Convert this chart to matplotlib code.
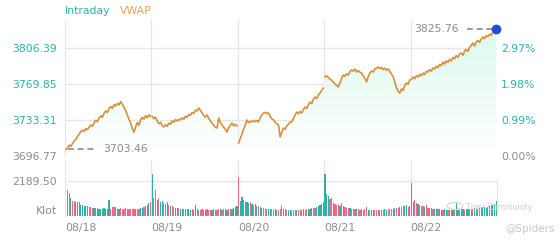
import numpy as np
import matplotlib
matplotlib.use("Agg")
import matplotlib.pyplot as plt
from matplotlib.colors import LinearSegmentedColormap
from matplotlib.patches import Circle

# prix intraday (52 pontos por dia)
prev_close = 3696.77
days = ["08/18", "08/19", "08/20", "08/21", "08/22"]

price_0818 = [3703.46, 3705.0, 3707.8, 3706.5, 3709.6, 3712.0, 3713.5, 3716.8, 3719.0, 3721.5, 3723.0, 3721.8, 3724.6,
              3723.5, 3726.0, 3728.2, 3727.0, 3730.5, 3733.0, 3731.6, 3735.2, 3737.5, 3736.0, 3740.1, 3742.5, 3741.0,
              3744.8, 3747.0, 3745.2, 3748.9, 3747.5, 3750.2, 3748.6, 3752.0, 3749.5, 3746.2, 3743.0, 3738.5, 3734.2,
              3730.0, 3724.5, 3721.0, 3726.3, 3730.8, 3728.0, 3733.5, 3736.0, 3734.2, 3737.8, 3735.5, 3738.6, 3737.0]
price_0819 = [3737.0, 3734.5, 3736.2, 3732.0, 3729.5, 3731.0, 3727.8, 3726.2, 3728.5, 3727.0, 3730.2, 3729.0, 3732.4,
              3731.0, 3733.8, 3732.2, 3734.0, 3733.3, 3735.6, 3734.0, 3737.2, 3736.0, 3739.0, 3738.2, 3741.0, 3740.0,
              3743.2, 3742.5, 3745.5, 3743.0, 3740.5, 3738.0, 3736.2, 3738.4, 3735.0, 3732.5, 3730.0, 3728.0, 3725.8,
              3725.2, 3735.3, 3731.0, 3728.5, 3726.0, 3723.8, 3721.1, 3725.5, 3728.0, 3730.3, 3727.5, 3729.0, 3727.2]
price_0820 = [3710.0, 3714.5, 3719.0, 3724.0, 3728.5, 3733.3, 3730.5, 3732.0, 3731.3, 3733.0, 3731.5, 3732.8, 3731.3,
              3735.5, 3738.8, 3740.4, 3741.0, 3739.8, 3740.4, 3737.0, 3734.5, 3733.3, 3731.0, 3729.5, 3728.2, 3716.1,
              3721.0, 3725.2, 3724.0, 3727.5, 3729.0, 3731.3, 3731.3, 3735.0, 3738.5, 3741.4, 3739.5, 3742.0, 3740.4,
              3744.0, 3746.5, 3745.0, 3749.0, 3751.6, 3750.0, 3754.5, 3756.7, 3755.0, 3758.8, 3760.7, 3763.5, 3765.8]
price_0821 = [3777.0, 3778.2, 3776.5, 3775.0, 3773.5, 3771.9, 3770.0, 3768.5, 3766.8, 3771.0, 3775.5, 3779.0, 3777.8,
              3780.2, 3779.0, 3782.5, 3784.1, 3783.0, 3785.0, 3782.0, 3783.5, 3781.8, 3781.0, 3778.0, 3775.5, 3771.9,
              3777.5, 3781.0, 3783.2, 3782.0, 3785.0, 3786.0, 3787.1, 3785.5, 3786.8, 3784.5, 3786.0, 3783.8, 3785.2,
              3782.5, 3780.0, 3777.2, 3772.0, 3766.0, 3762.5, 3760.7, 3765.0, 3763.2, 3768.5, 3771.0, 3769.5, 3773.9]
price_0822 = [3774.5, 3777.0, 3775.2, 3778.5, 3777.0, 3779.8, 3778.2, 3781.0, 3779.5, 3782.8, 3782.0, 3784.5, 3783.0,
              3786.2, 3785.0, 3788.0, 3786.5, 3789.8, 3788.5, 3792.2, 3790.0, 3793.5, 3791.8, 3795.0, 3793.2, 3797.0,
              3795.5, 3798.8, 3797.0, 3800.5, 3801.3, 3799.0, 3803.5, 3805.0, 3803.0, 3807.2, 3809.0, 3811.5, 3808.5,
              3812.8, 3814.0, 3812.2, 3815.5, 3817.6, 3815.8, 3819.0, 3818.0, 3820.5, 3819.2, 3822.6, 3823.5, 3825.76]

# volume (lotes) e direcao de cada barra (u = alta, d = baixa)
vol_0818 = [3315, 1630, 1440, 1130, 960, 940, 900, 880, 860, 700, 690, 650, 640, 600, 560, 540, 520, 500, 480, 470,
            460, 450, 440, 470, 430, 440, 1000, 420, 560, 580, 540, 430, 420, 480, 430, 420, 510, 420, 410, 440, 430,
            460, 420, 430, 440, 470, 520, 560, 620, 700, 820, 880]
vol_0819 = [2630, 1130, 1600, 1000, 1100, 900, 950, 800, 720, 850, 700, 650, 600, 560, 520, 500, 480, 460, 440, 430,
            420, 420, 410, 400, 420, 400, 690, 410, 390, 400, 420, 380, 400, 410, 390, 400, 380, 420, 400, 390, 410,
            420, 400, 430, 420, 400, 430, 440, 460, 500, 540, 600]
vol_0820 = [2440, 950, 1190, 1000, 900, 850, 800, 880, 760, 700, 720, 650, 600, 560, 520, 480, 460, 440, 430, 420,
            410, 400, 420, 400, 390, 410, 700, 450, 420, 400, 380, 390, 400, 380, 370, 390, 380, 400, 390, 410, 400,
            420, 430, 450, 470, 500, 520, 560, 620, 700, 780, 900]
vol_0821 = [2630, 1350, 1250, 1060, 1100, 800, 760, 700, 720, 640, 820, 600, 560, 520, 500, 480, 460, 450, 430, 420,
            410, 400, 420, 400, 410, 560, 400, 390, 380, 400, 390, 380, 400, 390, 380, 400, 410, 400, 420, 430, 440,
            460, 480, 500, 520, 540, 560, 600, 640, 680, 560, 620]
vol_0822 = [2060, 900, 1000, 820, 750, 700, 650, 600, 560, 700, 520, 480, 500, 450, 430, 420, 410, 420, 400, 390,
            410, 400, 390, 380, 400, 390, 380, 810, 400, 390, 410, 420, 400, 430, 420, 440, 460, 450, 470, 480, 460,
            500, 520, 540, 560, 500, 580, 620, 660, 700, 760, 940]

dir_0818 = "uddudduuuuuuu uddduuuuuuuuu uddddduddddud dddudduudduud"
dir_0819 = "udduduuddudud duuduuduuuudu ududdduddduud ddudduudduuuu"
dir_0820 = "duuuuuududuud uuddduudduudd dudduuddduddu udduuudduuuuu"
dir_0821 = "uuuddudddudud ddudddudduddd uduudddudduud dduuddudduudu"
dir_0822 = "uuddudddudduu duuduuduuduuu duuduuduududu uuduuuuuuuuuu"

prices = [price_0818, price_0819, price_0820, price_0821, price_0822]
vols = [vol_0818, vol_0819, vol_0820, vol_0821, vol_0822]
dirs = ["".join(d.split()) for d in [dir_0818, dir_0819, dir_0820, dir_0821, dir_0822]]

n_day = len(price_0818)
n_tot = n_day * len(days)

teal = "#2bb3a6"
pink = "#ee6a88"
orange = "#d6913c"
grey_txt = "#8c8c8c"
grid_c = "#e6e6e6"

fig = plt.figure(figsize=(5.6, 2.4), dpi=100)
ax = fig.add_axes([65 / 560, 84 / 240, 432 / 560, 136 / 240])
axv = fig.add_axes([65 / 560, 24 / 240, 432 / 560, 56 / 240])

y_lo = prev_close
y_hi = prev_close + 138.1
step = 36.54
levels = [prev_close + k * step for k in range(4)]

# linha de preco por dia + area em degrade
all_x, all_y = [], []
for d, p in enumerate(prices):
    x = d * n_day + np.arange(len(p)) + 0.5
    ax.plot(x, p, color=orange, lw=1.2, zorder=4, solid_joinstyle="round")
    all_x.extend(x)
    all_y.extend(p)
all_x = np.array(all_x)
all_y = np.array(all_y)

poly = ax.fill_between(all_x, all_y, y_lo, facecolor="none", edgecolor="none")
cmap = LinearSegmentedColormap.from_list("mint", ["#ffffff", "#dcf9ec"])
grad = np.linspace(0, 1, 256).reshape(-1, 1)
img = ax.imshow(grad, cmap=cmap, aspect="auto", origin="lower",
                extent=[all_x[0], all_x[-1], y_lo, all_y.max()], zorder=1)
img.set_clip_path(poly.get_paths()[0], transform=ax.transData)

ax.set_xlim(0, n_tot)
ax.set_ylim(y_lo, y_hi)
for lv in levels:
    ax.axhline(lv, color=grid_c, lw=1, zorder=0)
for d in range(1, len(days)):
    ax.axvline(d * n_day, color=grid_c, lw=1, zorder=0)
    axv.axvline(d * n_day, color=grid_c, lw=1, zorder=0)

ax.set_yticks(levels)
ax.set_yticklabels(["%.2f" % v for v in levels], fontsize=7.8)
for i, t in enumerate(ax.get_yticklabels()):
    t.set_color(grey_txt if i == 0 else teal)
ax.tick_params(axis="y", length=0, pad=6)
ax.set_xticks([])
for s in ["top", "right", "bottom"]:
    ax.spines[s].set_visible(False)
ax.spines["left"].set_color(grid_c)

axr = ax.twinx()
axr.set_ylim(y_lo, y_hi)
axr.set_yticks(levels)
axr.set_yticklabels(["%.2f%%" % ((v / prev_close - 1) * 100) for v in levels], fontsize=7.8)
for i, t in enumerate(axr.get_yticklabels()):
    t.set_color(grey_txt if i == 0 else teal)
axr.tick_params(axis="y", length=0, pad=3)
for s in axr.spines.values():
    s.set_visible(False)

# marcadores de abertura e ultimo preco
px = n_tot / 432.0
x0, p0 = all_x[0], all_y[0]
ax.plot([x0 + 2 * px, x0 + 30 * px], [p0, p0], color="#9a9a9a", lw=1.4, ls=(0, (3, 2)), zorder=3)
ax.text(x0 + 37 * px, p0, "%.2f" % p0, color=grey_txt, fontsize=7.8, va="center", ha="left", zorder=5)
x1, p1 = all_x[-1], all_y[-1]
ax.plot([x1 - 29 * px, x1 - 4 * px], [p1, p1], color="#9a9a9a", lw=1.4, ls=(0, (3, 2)), zorder=3)
ax.text(x1 - 37 * px, p1, "%.2f" % p1, color=grey_txt, fontsize=7.8, va="center", ha="right", zorder=5)
ax.plot([x1], [p1], "o", color="#1f4fd6", ms=6, zorder=6, clip_on=False)

# volume
for d in range(len(days)):
    x = d * n_day + np.arange(n_day) + 0.5
    cols = [teal if c == "u" else pink for c in dirs[d]]
    axv.bar(x, vols[d], width=0.7, color=cols, zorder=2)
axv.set_xlim(0, n_tot)
axv.set_ylim(0, 3503)
axv.axhline(2189.5, color=grid_c, lw=1, zorder=0)
axv.set_yticks([0, 2189.5])
axv.set_yticklabels(["Klot", "2189.50"], fontsize=7.8, color=grey_txt)
axv.get_yticklabels()[0].set_va("bottom")
axv.tick_params(axis="y", length=0, pad=6)
axv.set_xticks([d * n_day for d in range(len(days))])
axv.set_xticklabels(days, fontsize=7.8, color=grey_txt, ha="left")
axv.tick_params(axis="x", length=0, pad=5)
for s in ["top", "bottom"]:
    axv.spines[s].set_visible(False)
axv.spines["left"].set_color(grid_c)
axv.spines["right"].set_color(grid_c)
axv.spines["right"].set_bounds(0, 2189.5)

# legenda
fig.text(65 / 560, 1 - 11 / 240, "Intraday", color=teal, fontsize=7.8, va="center")
fig.text(120 / 560, 1 - 11 / 240, "VWAP", color="#f0a04c", fontsize=7.8, va="center")

# marca d'agua
fig.patches.append(Circle((455 / 560, 1 - 206 / 240), 0.014, transform=fig.transFigure,
                          fill=False, edgecolor="#d2d2d2", lw=0.8))
fig.text(466 / 560, 1 - 208 / 240, "Tiger Community", color="#cfcfcf", fontsize=5.5, va="center")
fig.text(505 / 560, 1 - 229 / 240, "@Spiders", color="#c8c8c8", fontsize=7.5, va="center")

fig.savefig("out.png", dpi=100, facecolor="white")
